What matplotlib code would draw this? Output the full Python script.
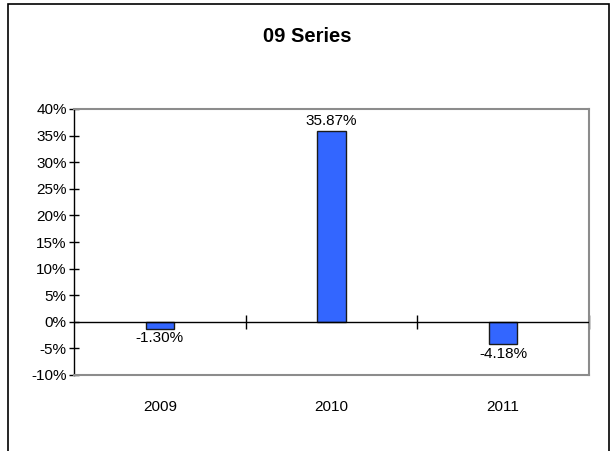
import matplotlib
matplotlib.use('Agg')
import matplotlib.pyplot as plt
from matplotlib.patches import Rectangle

years = ['2009', '2010', '2011']
values = [-1.30, 35.87, -4.18]
yticks = [-10, -5, 0, 5, 10, 15, 20, 25, 30, 35, 40]

plt.rcParams['font.family'] = ['Liberation Sans', 'DejaVu Sans']

fig = plt.figure(figsize=(6.13, 4.51), dpi=100)
# outer chart border (bottom edge is cut off in the original)
fig.patches.append(Rectangle((8/613, -0.1), 601/613, 1.1 - 4/451, transform=fig.transFigure,
                             fill=False, edgecolor='black', linewidth=1.2))
ax = fig.add_axes([74/613, 1 - 375/451, 515/613, 266/451])

x = range(len(years))
ax.bar(x, values, width=0.165, color='#3366FF', edgecolor='#1a1a1a', linewidth=1, zorder=3)

ax.set_xlim(-0.5, 2.5)
ax.set_ylim(-10, 40)
ax.set_yticks(yticks)
ax.set_yticklabels(['%d%%' % t for t in yticks], fontsize=11)
ax.tick_params(axis='y', direction='inout', length=6.5, width=1, pad=2)

ax.set_xticks(list(x))
ax.set_xticklabels(years, fontsize=11)
ax.tick_params(axis='x', length=0, pad=18)

for s in ['top', 'right', 'bottom']:
    ax.spines[s].set_color('#8c8c8c')
    ax.spines[s].set_linewidth(1.5)
ax.spines['left'].set_color('black')
ax.spines['left'].set_linewidth(1)

# zero line with category separators
ax.axhline(0, color='black', linewidth=1, zorder=4)
sec = ax.secondary_xaxis(0.2)
sec.set_xticks([0.5, 1.5, 2.5])
sec.set_xticklabels([])
sec.tick_params(direction='inout', length=10, width=1, color='black')
sec.spines['bottom'].set_visible(False)

for i, v in enumerate(values):
    if v >= 0:
        ax.annotate('%.2f%%' % v, (i, v), xytext=(0, 2), textcoords='offset points',
                    ha='center', va='bottom', fontsize=11)
    else:
        ax.annotate('%.2f%%' % v, (i, v), xytext=(0, -2), textcoords='offset points',
                    ha='center', va='top', fontsize=11)

fig.text(307/613, 1 - 36/451, '09 Series', ha='center', va='center', fontsize=14.5, fontweight='bold')

fig.savefig('out.png', dpi=100)
